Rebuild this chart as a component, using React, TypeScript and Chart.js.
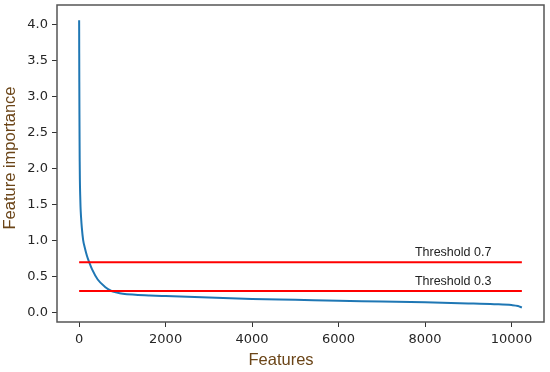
import React, { useEffect, useRef } from "react";
import { Chart, registerables } from "chart.js";

Chart.register(...registerables);

const featureIndex = [0, 2, 4, 7, 10, 13, 17, 24, 32, 45, 62, 92, 131, 180, 232, 300, 430, 593, 747, 850, 1010, 1300, 1633, 2000, 3000, 4000, 5000, 6000, 7000, 8000, 9000, 9600, 10000, 10150, 10240];
const importance = [4.06, 3.6, 3.2, 2.75, 2.4, 2.1, 1.85, 1.64, 1.47, 1.32, 1.18, 1.01, 0.9, 0.79, 0.7, 0.6, 0.46, 0.36, 0.3, 0.282, 0.262, 0.248, 0.238, 0.23, 0.21, 0.19, 0.178, 0.165, 0.155, 0.143, 0.128, 0.117, 0.105, 0.092, 0.07];

const thresholdValues = [0.7, 0.3];
const thresholdLabels = ["Threshold 0.7", "Threshold 0.3"];
const thresholdRange = [0, 10240];

const xTicks = [0, 2000, 4000, 6000, 8000, 10000];
const yTicks = [0, 0.5, 1.0, 1.5, 2.0, 2.5, 3.0, 3.5, 4.0];

const xTitle = "Features";
const yTitle = "Feature importance";

export default function App() {
  const ref = useRef<HTMLCanvasElement>(null);
  useEffect(() => {
    document.body.style.margin = "0";
    const canvas = ref.current!;
    const frame = {
      id: "frame",
      afterDraw(chart: any) {
        const { ctx, chartArea: a, scales } = chart;
        ctx.save();
        ctx.strokeStyle = "#555";
        ctx.lineWidth = 1.5;
        ctx.strokeRect(a.left, a.top, a.right - a.left, a.bottom - a.top);
        // threshold labels
        ctx.fillStyle = "#222";
        ctx.font = "12.5px 'Liberation Sans', sans-serif";
        ctx.textAlign = "center";
        ctx.textBaseline = "alphabetic";
        thresholdValues.forEach((v, i) => {
          const x = scales.x.getPixelForValue(8650);
          const y = scales.y.getPixelForValue(v) - 6;
          ctx.fillText(thresholdLabels[i], x, y);
        });
        // axis titles
        ctx.fillStyle = "#6b4518";
        ctx.font = "16.5px 'Liberation Sans', sans-serif";
        ctx.textBaseline = "middle";
        ctx.fillText(xTitle, 281, 360);
        ctx.translate(10, 158);
        ctx.rotate(-Math.PI / 2);
        ctx.fillText(yTitle, 0, 0);
        ctx.restore();
      },
    };
    const chart = new Chart(canvas, {
      type: "scatter",
      data: {
        datasets: [
          {
            data: featureIndex.map((x, i) => ({ x, y: importance[i] })),
            showLine: true,
            borderColor: "#1f77b4",
            borderWidth: 2,
            pointRadius: 0,
            cubicInterpolationMode: "monotone",
            order: 2,
          } as any,
          ...thresholdValues.map((v) => ({
            data: thresholdRange.map((x) => ({ x, y: v })),
            showLine: true,
            borderColor: "#ff0000",
            borderWidth: 2,
            pointRadius: 0,
            order: 1,
          })),
        ],
      },
      options: {
        animation: false,
        responsive: false,
        layout: { padding: { top: 5, right: 6, left: 0, bottom: 0 } },
        plugins: { legend: { display: false }, tooltip: { enabled: false } },
        scales: {
          x: {
            type: "linear",
            min: -512,
            max: 10752,
            afterBuildTicks: (s: any) => {
              s.ticks = xTicks.map((value) => ({ value }));
            },
            afterFit: (s: any) => {
              s.height = 50;
              s.paddingLeft = 0;
              s.paddingRight = 0;
            },
            grid: { drawOnChartArea: false, tickLength: 5, tickColor: "#333", drawTicks: true },
            border: { display: false },
            ticks: {
              color: "#262626",
              font: { family: "'DejaVu Sans', sans-serif", size: 13 },
              padding: 5,
              maxRotation: 0,
              callback: (v: any) => String(v),
            },
          },
          y: {
            type: "linear",
            min: -0.13,
            max: 4.27,
            afterBuildTicks: (s: any) => {
              s.ticks = yTicks.map((value) => ({ value }));
            },
            afterFit: (s: any) => {
              s.width = 57;
              s.paddingTop = 0;
              s.paddingBottom = 0;
            },
            grid: { drawOnChartArea: false, tickLength: 5, tickColor: "#333" },
            border: { display: false },
            ticks: {
              color: "#262626",
              font: { family: "'DejaVu Sans', sans-serif", size: 13 },
              padding: 4,
              callback: (v: any) => Number(v).toFixed(1),
            },
          },
        },
      },
      plugins: [frame],
    });
    return () => chart.destroy();
  }, []);
  return <canvas ref={ref} width={550} height={372} style={{ display: "block" }} />;
}
